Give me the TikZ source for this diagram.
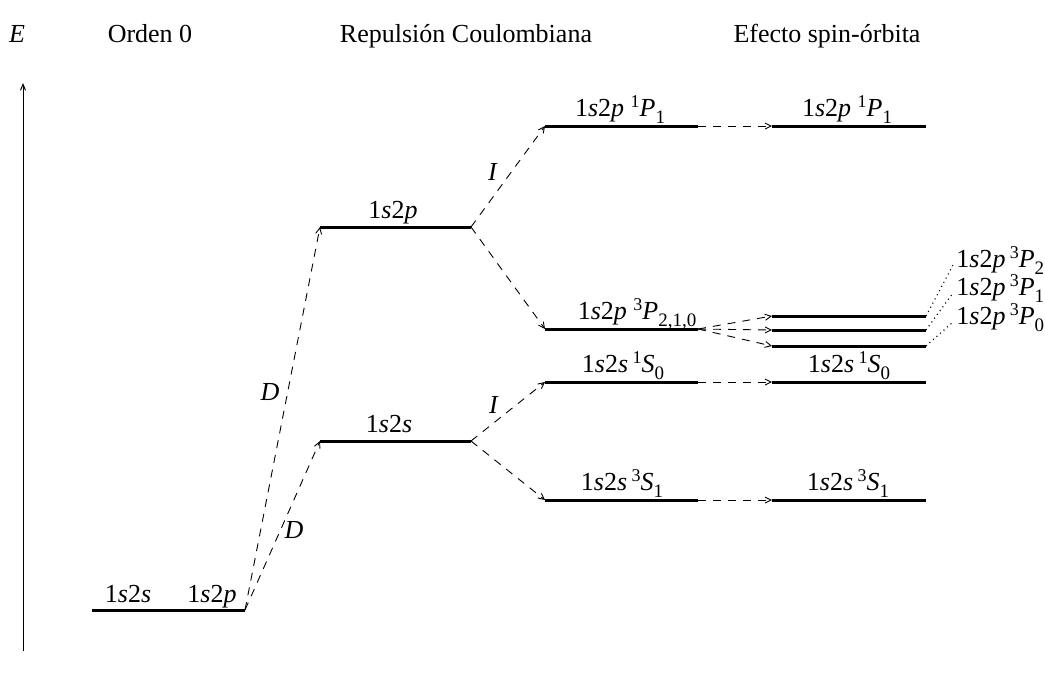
\documentclass[tikz,border=0pt]{standalone}
\usepackage{fontspec}
\setmainfont{Liberation Serif}
\usetikzlibrary{arrows.meta}
\newcommand\ti[1]{\textit{#1}}
\newcommand\sps[1]{\raisebox{4.2pt}{\fontsize{9}{10}\selectfont #1}}
\newcommand\sbs[1]{\raisebox{-3.8pt}{\fontsize{9.5}{10}\selectfont #1}}
\tikzset{
 lvl/.style={line width=1.5pt},
 trans/.style={line width=0.45pt, dash pattern=on 4pt off 3.5pt, -{Straight Barb[length=3pt,width=3pt]}},
 lab/.style={anchor=base, inner sep=0pt, font=\fontsize{13}{15}\selectfont},
 labw/.style={lab, anchor=base west},
 fine/.style={line width=0.55pt, dash pattern=on 0.55pt off 1.8pt},
}
\begin{document}
\begin{tikzpicture}[x=0.5pt,y=-0.5pt]
\useasboundingbox (0,0) rectangle (1045,682);
% headers
\node[lab] (hE) at (17,42) {\ti{E}};
\node[lab] (h0) at (150,42) {Orden 0};
\node[lab] (h1) at (466,42) {Repulsión Coulombiana};
\node[lab] (h2) at (827,42) {Efecto spin-órbita};
% axis
\coordinate (ax0) at (23,651);
\coordinate (ax1) at (23,83);
\draw[line width=0.5pt, -{Straight Barb[length=3pt,width=2.5pt]}] (ax0) -- (ax1);
% order 0
\coordinate (o0a) at (92,610); \coordinate (o0b) at (245,610);
% Coulomb
\coordinate (cpa) at (320,227); \coordinate (cpb) at (471,227);
\coordinate (csa) at (320,441); \coordinate (csb) at (471,441);
% terms
\coordinate (p1a) at (545,126); \coordinate (p1b) at (698,126);
\coordinate (p3a) at (545,329); \coordinate (p3b) at (698,329);
\coordinate (s1a) at (545,382); \coordinate (s1b) at (698,382);
\coordinate (s3a) at (545,500); \coordinate (s3b) at (698,500);
% spin-orbit
\coordinate (q1a) at (772,126); \coordinate (q1b) at (926,126);
\coordinate (q2a) at (772,316); \coordinate (q2b) at (926,316);
\coordinate (q1xa) at (772,330); \coordinate (q1xb) at (926,330);
\coordinate (q0a) at (772,346); \coordinate (q0b) at (926,346);
\coordinate (r1a) at (772,382); \coordinate (r1b) at (926,382);
\coordinate (r3a) at (772,500); \coordinate (r3b) at (926,500);
\foreach \a/\b in {o0a/o0b,cpa/cpb,csa/csb,p1a/p1b,p3a/p3b,s1a/s1b,s3a/s3b,q1a/q1b,q2a/q2b,q1xa/q1xb,q0a/q0b,r1a/r1b,r3a/r3b}
  \draw[lvl] (\a) -- (\b);
% level labels
\node[lab] (l0s) at (128,602) {1\ti{s}2\ti{s}};
\node[lab] (l0p) at (212,602) {1\ti{s}2\ti{p}};
\node[lab] (lcp) at (393,218) {1\ti{s}2\ti{p}};
\node[lab] (lcs) at (389,432) {1\ti{s}2\ti{s}};
\node[lab] (lp1) at (620,116) {1\ti{s}2\ti{p} \sps{1}\ti{P}\sbs{1}};
\node[lab] (lp3) at (637,319) {1\ti{s}2\ti{p} \sps{3}\ti{P}\sbs{2,1,0}};
\node[lab] (ls1) at (623,372) {1\ti{s}2\ti{s}\,\sps{1}\ti{S}\sbs{0}};
\node[lab] (ls3) at (622,490) {1\ti{s}2\ti{s}\,\sps{3}\ti{S}\sbs{1}};
\node[lab] (lq1) at (847,116) {1\ti{s}2\ti{p} \sps{1}\ti{P}\sbs{1}};
\node[lab] (lr1) at (849,372) {1\ti{s}2\ti{s}\,\sps{1}\ti{S}\sbs{0}};
\node[lab] (lr3) at (848,490) {1\ti{s}2\ti{s}\,\sps{3}\ti{S}\sbs{1}};
\node[labw] (lq2) at (956,267) {1\ti{s}2\ti{p}\,\sps{3}\ti{P}\sbs{2}};
\node[labw] (lq1x) at (956,295) {1\ti{s}2\ti{p}\,\sps{3}\ti{P}\sbs{1}};
\node[labw] (lq0) at (956,324) {1\ti{s}2\ti{p}\,\sps{3}\ti{P}\sbs{0}};
% transitions
\draw[trans] (o0b) -- (cpa);
\draw[trans] (o0b) -- (csa);
\draw[trans] (cpb) -- (p1a);
\draw[trans] (cpb) -- (p3a);
\draw[trans] (csb) -- (s1a);
\draw[trans] (csb) -- (s3a);
\draw[trans] (p1b) -- (q1a);
\draw[trans] (s1b) -- (r1a);
\draw[trans] (s3b) -- (r3a);
\draw[trans] (p3b) -- (q2a);
\draw[trans] (p3b) -- (q1xa);
\draw[trans] (p3b) -- (q0a);
% transition labels
\node[lab, anchor=center] (dD1) at (270,392) {\ti{D}};
\node[lab, anchor=center] (dD2) at (294,530) {\ti{D}};
\node[lab, anchor=center] (dI1) at (493,172) {\ti{I}};
\node[lab, anchor=center] (dI2) at (494,405) {\ti{I}};
% dotted leaders
\coordinate (e2) at (953,265);
\coordinate (e1) at (953,293);
\coordinate (e0) at (953,322);
\draw[fine] (q2b) -- (e2);
\draw[fine] (q1xb) -- (e1);
\draw[fine] (q0b) -- (e0);
\end{tikzpicture}
\end{document}
